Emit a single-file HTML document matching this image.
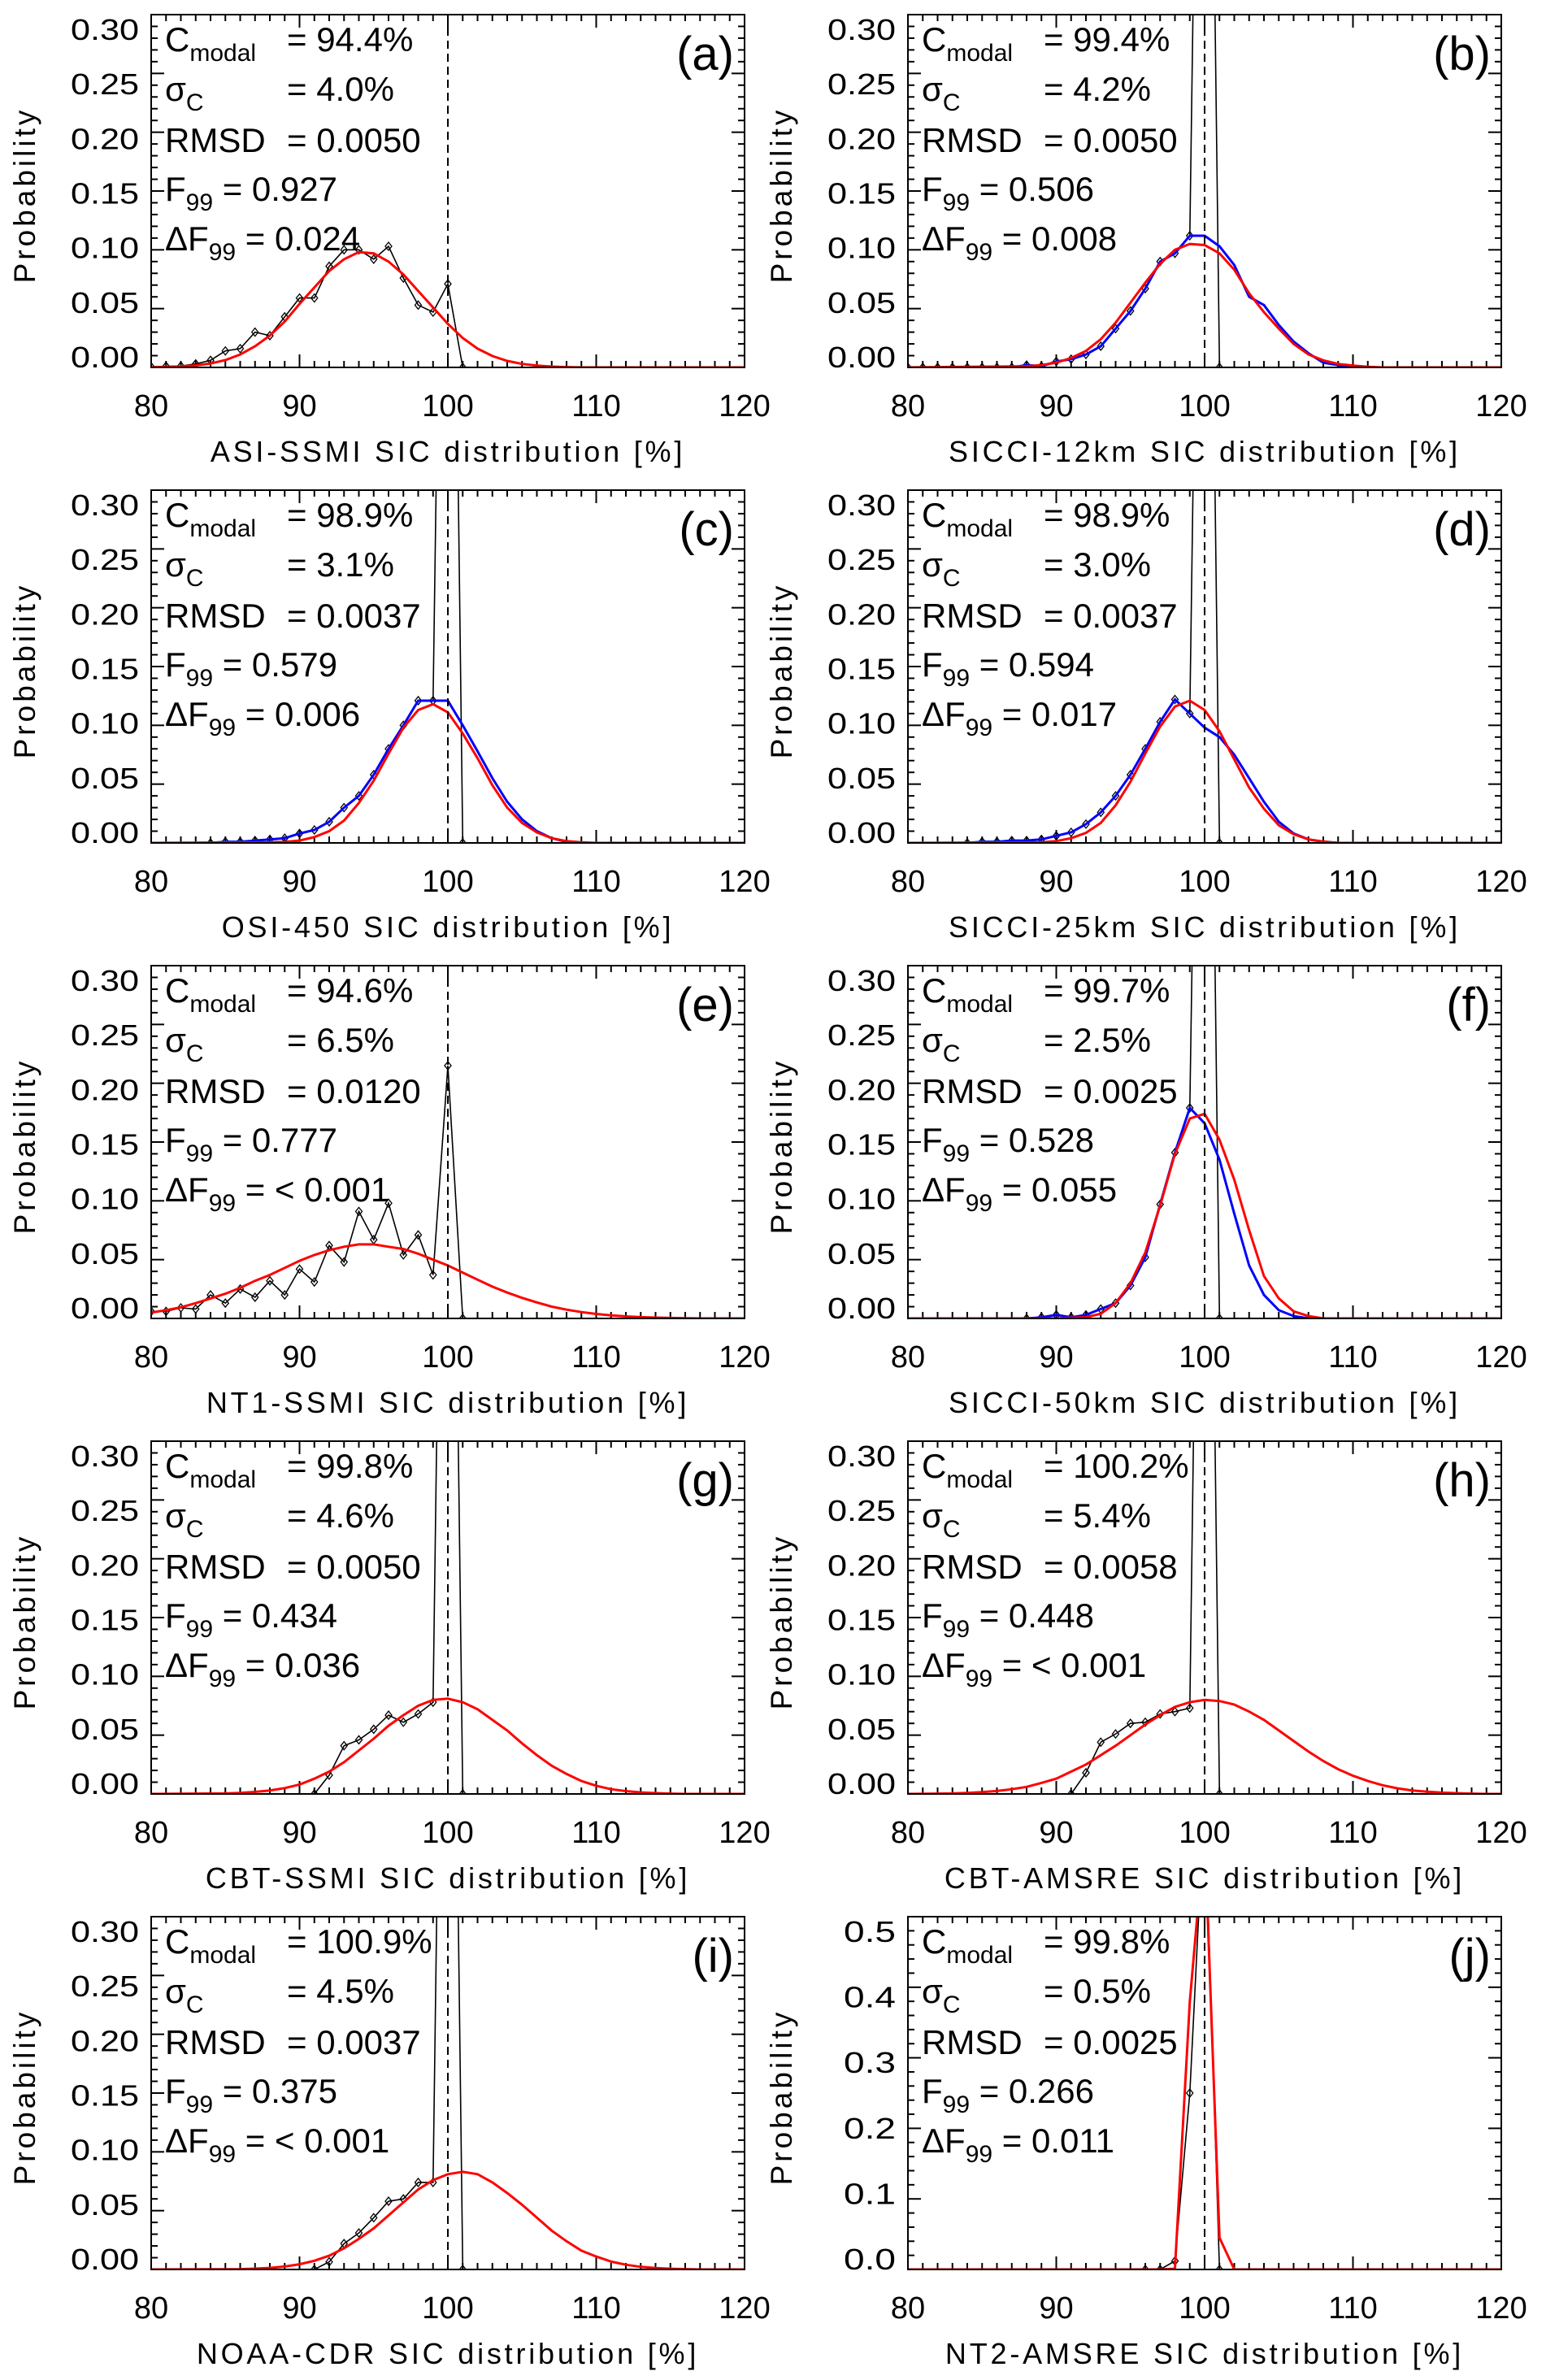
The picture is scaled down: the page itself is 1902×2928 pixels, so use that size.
<!DOCTYPE html>
<html><head><meta charset="utf-8">
<style>
html,body{margin:0;padding:0;background:#fff;}
svg{display:block;font-family:"Liberation Sans",sans-serif;}
</style></head>
<body>
<svg id="fig" width="1902" height="2928" viewBox="0 0 1902 2928" xmlns="http://www.w3.org/2000/svg"></svg>
<script>
// ---- data (x bins in %, probability values) ----
const panelIds = ["a","b","c","d","e","f","g","h","i","j"];
const productNames = ["ASI-SSMI","SICCI-12km","OSI-450","SICCI-25km","NT1-SSMI","SICCI-50km","CBT-SSMI","CBT-AMSRE","NOAA-CDR","NT2-AMSRE"];
const cModal = ["94.4%","99.4%","98.9%","98.9%","94.6%","99.7%","99.8%","100.2%","100.9%","99.8%"];
const sigmaC = ["4.0%","4.2%","3.1%","3.0%","6.5%","2.5%","4.6%","5.4%","4.5%","0.5%"];
const rmsd = ["0.0050","0.0050","0.0037","0.0037","0.0120","0.0025","0.0050","0.0058","0.0037","0.0025"];
const f99 = ["0.927","0.506","0.579","0.594","0.777","0.528","0.434","0.448","0.375","0.266"];
const dF99 = ["0.024","0.008","0.006","0.017","< 0.001","0.055","0.036","< 0.001","< 0.001","0.011"];
const yMax = [0.30,0.30,0.30,0.30,0.30,0.30,0.30,0.30,0.30,0.5];
const xTicks = [80,90,100,110,120];
const yTicksStd = ["0.00","0.05","0.10","0.15","0.20","0.25","0.30"];
const yTicksJ = ["0.0","0.1","0.2","0.3","0.4","0.5"];

const obsStart = [80,80,84,84,80,88,91,91,91,96];
const obsA = [0.0005,0.001,0.0012,0.003,0.006,0.014,0.016,0.030,0.027,0.043,0.059,0.059,0.086,0.100,0.100,0.092,0.103,0.076,0.053,0.047,0.071,0];
const obsB = [0,0,0,0,0,0,0,0,0.002,0.001,0.005,0.007,0.011,0.018,0.033,0.048,0.067,0.090,0.097,0.112,1.0,0];
const obsC = [0,0.001,0.001,0.002,0.003,0.004,0.008,0.011,0.018,0.030,0.040,0.058,0.080,0.100,0.121,0.121,1.0,0];
const obsD = [0,0.001,0.001,0.002,0.002,0.003,0.006,0.009,0.016,0.026,0.040,0.058,0.080,0.103,0.122,0.110,1.0,0];
const obsE = [0.006,0.006,0.009,0.008,0.020,0.013,0.025,0.018,0.032,0.020,0.042,0.031,0.062,0.048,0.091,0.067,0.098,0.054,0.071,0.037,0.215,0];
const obsF = [0,0.001,0.003,0.001,0.003,0.008,0.013,0.028,0.052,0.097,0.141,0.179,1.0,0];
const obsG = [0,0.016,0.041,0.046,0.055,0.067,0.061,0.068,0.078,1.0,0];
const obsH = [0,0.018,0.044,0.051,0.060,0.061,0.068,0.070,0.073,1.0,0];
const obsI = [0,0.0065,0.022,0.031,0.044,0.058,0.060,0.074,0.074,1.0,0];
const obsJ = [0,0,0.012,0.25,0.67,0];

const blueStart = [0,80,84,84,0,88,0,0,0,0];
const blueB = [0,0,0,0,0,0,0,0,0.002,0.001,0.005,0.007,0.011,0.018,0.033,0.048,0.067,0.090,0.097,0.112,0.112,0.103,0.087,0.060,0.053,0.036,0.022,0.012,0.004,0.002,0];
const blueC = [0,0.001,0.001,0.002,0.003,0.004,0.008,0.011,0.018,0.030,0.040,0.058,0.080,0.100,0.121,0.121,0.121,0.100,0.078,0.055,0.035,0.020,0.010,0.004,0.001,0];
const blueD = [0,0.001,0.001,0.002,0.002,0.003,0.006,0.009,0.016,0.026,0.040,0.058,0.080,0.103,0.122,0.110,0.098,0.090,0.075,0.055,0.035,0.018,0.008,0.003,0.001,0];
const blueF = [0,0.001,0.003,0.001,0.003,0.008,0.013,0.028,0.052,0.097,0.141,0.179,0.166,0.135,0.089,0.045,0.020,0.007,0.002,0];

const redStart = [80,88,88,89,80,90,85,83,86,97];
const redA = [0.0002,0.0004,0.0008,0.0017,0.0033,0.0062,0.011,0.018,0.027,0.039,0.054,0.068,0.082,0.092,0.098,0.097,0.090,0.079,0.065,0.051,0.037,0.025,0.016,0.0097,0.0055,0.003,0.0015,0.0007,0.0003,0];
const redB = [0.001,0.002,0.004,0.008,0.014,0.024,0.038,0.055,0.072,0.088,0.100,0.105,0.104,0.097,0.083,0.063,0.047,0.033,0.020,0.011,0.006,0.003,0.0015,0.0005,0];
const redC = [0.0005,0.0008,0.002,0.005,0.010,0.019,0.034,0.053,0.076,0.098,0.113,0.118,0.111,0.093,0.072,0.049,0.030,0.017,0.009,0.004,0.0015,0.0005,0];
const redD = [0.0005,0.0015,0.004,0.0086,0.017,0.032,0.052,0.076,0.099,0.116,0.121,0.113,0.095,0.071,0.047,0.029,0.015,0.0074,0.003,0.0012,0];
const redE = [0.005,0.007,0.0095,0.013,0.017,0.021,0.026,0.032,0.037,0.043,0.049,0.054,0.058,0.061,0.063,0.063,0.061,0.059,0.055,0.050,0.045,0.039,0.033,0.027,0.022,0.0175,0.0136,0.010,0.0075,0.0054,0.0038,0.0026,0.0017,0.0011,0.0007,0.0004,0.0002,0];
const redF = [0,0.0005,0.001,0.004,0.013,0.030,0.056,0.096,0.140,0.170,0.174,0.152,0.118,0.075,0.036,0.017,0.006,0.002,0];
const redG = [0.0004,0.0009,0.0017,0.003,0.005,0.008,0.013,0.019,0.027,0.037,0.047,0.058,0.067,0.075,0.080,0.081,0.078,0.072,0.063,0.054,0.043,0.033,0.024,0.017,0.011,0.007,0.004,0.0024,0.0013,0.0007,0.0003,0];
const redH = [0.0004,0.0009,0.0015,0.0025,0.004,0.006,0.0094,0.013,0.019,0.025,0.033,0.041,0.050,0.059,0.067,0.074,0.078,0.080,0.079,0.076,0.070,0.063,0.054,0.045,0.036,0.028,0.021,0.0155,0.011,0.0074,0.0048,0.003,0.0019,0.0011,0.0006,0.0003,0];
const redI = [0.0003,0.0007,0.0013,0.0025,0.0044,0.0074,0.0117,0.018,0.026,0.035,0.046,0.057,0.068,0.076,0.081,0.083,0.081,0.074,0.065,0.055,0.044,0.033,0.024,0.016,0.011,0.0067,0.004,0.0022,0.0012,0.0006,0.0003,0];
const redJ = [0,0.001,0.38,0.62,0.045,0];

const obsSeries = [obsA,obsB,obsC,obsD,obsE,obsF,obsG,obsH,obsI,obsJ];
const blueSeries = [null,blueB,blueC,blueD,null,blueF,null,null,null,null];
const redSeries = [redA,redB,redC,redD,redE,redF,redG,redH,redI,redJ];

// ---- drawing ----
const NS = "http://www.w3.org/2000/svg";
const svg = document.getElementById("fig");
function mk(tag, attrs, parent) {
  const e = document.createElementNS(NS, tag);
  for (const k in attrs) e.setAttribute(k, attrs[k]);
  (parent || svg).appendChild(e);
  return e;
}
const W = 730, H = 434, XMIN = 80, XMAX = 120;

panelIds.forEach((pid, p) => {
  const col = p % 2, row = Math.floor(p / 2);
  const L = col === 0 ? 186 : 1117;
  const T = 18 + 585 * row;
  const ym = yMax[p];
  const xs = v => L + (v - XMIN) / (XMAX - XMIN) * W;
  const ys = v => T + H - v / ym * H;

  const g = mk("g", {});
  
  

  const clip = mk("clipPath", {id: "clip-" + pid}, g);
  mk("rect", {x: L, y: T, width: W, height: H}, clip);

  // ticks
  const ticks = mk("g", {stroke: "#000", "stroke-width": 2}, g);
  
  
  for (let v = XMIN; v <= XMAX; v++) {
    const len = v % 10 === 0 ? 16 : 8;
    const x = xs(v);
    mk("line", {x1: x, x2: x, y1: T + H, y2: T + H - len}, ticks);
    mk("line", {x1: x, x2: x, y1: T, y2: T + len}, ticks);
  }
  const minorStep = ym > 0.3 ? 0.02 : 0.01;
  const nMinor = Math.round(ym / minorStep);
  const majorEvery = 5;
  for (let k = 0; k <= nMinor; k++) {
    const len = k % majorEvery === 0 ? 16 : 8;
    const y = ys(k * minorStep);
    mk("line", {x1: L, x2: L + len, y1: y, y2: y}, ticks);
    mk("line", {x1: L + W, x2: L + W - len, y1: y, y2: y}, ticks);
  }

  // tick labels
  xTicks.forEach(v => {
    const t = mk("text", {x: xs(v), y: T + 494, "text-anchor": "middle", "font-size": 38}, g);
    t.textContent = v;
    
    
  });
  const yl = ym > 0.3 ? yTicksJ : yTicksStd;
  yl.forEach((lab, k) => {
    const cy = (T + 421) - k / (yl.length - 1) * (421 - 18);
    const t = mk("text", {x: L - 15, y: cy + 13, "text-anchor": "end", "font-size": 36,
      textLength: lab.length === 4 ? 84 : 64, lengthAdjust: "spacingAndGlyphs"}, g);
    t.textContent = lab;
    
    
  });

  // axis titles
  const xt = mk("text", {x: L + 365, y: T + 550, "text-anchor": "middle", "font-size": 36, "letter-spacing": 3.8}, g);
  xt.textContent = productNames[p] + " SIC distribution [%]";
  
  
  const cxT = L - 143, cyT = T + 222;
  const yt = mk("text", {x: cxT, y: cyT, "text-anchor": "middle", "font-size": 37, "letter-spacing": 4,
    transform: `rotate(-90 ${cxT} ${cyT})`}, g);
  yt.textContent = "Probability";
  
  

  // series
  const plot = mk("g", {"clip-path": `url(#clip-${pid})`}, g);
  const pathOf = (arr, start, pad) => {
    let d = "";
    if (pad && start > XMIN) d += `M${xs(XMIN)},${ys(0)}L`;
    else d += "M";
    d += arr.map((v, k) => `${xs(start + k).toFixed(1)},${ys(v).toFixed(1)}`).join("L");
    if (pad) d += `L${xs(XMAX)},${ys(0)}`;
    return d;
  };
  const ob = obsSeries[p];
  const blk = mk("path", {d: pathOf(ob, obsStart[p], true), fill: "none", stroke: "#000", "stroke-width": 1.6}, plot);
  
  
  ob.forEach((v, k) => {
    if (v > ym) return;
    const x = xs(obsStart[p] + k), y = ys(v);
    const dm = mk("path", {d: `M${x},${y - 5}L${x + 4},${y}L${x},${y + 5}L${x - 4},${y}Z`, fill: "none", stroke: "#000", "stroke-width": 1.3}, plot);
    
    
  });
  const bl = blueSeries[p];
  if (bl) {
    const b = mk("path", {d: pathOf(bl, blueStart[p], true), fill: "none", stroke: "#0000ff", "stroke-width": 3}, plot);
    
    
  }
  const r = mk("path", {d: pathOf(redSeries[p], redStart[p], true), fill: "none", stroke: "#ff0000", "stroke-width": 3}, plot);
  
  

  const dl = mk("line", {x1: xs(100), x2: xs(100), y1: T, y2: T + H, stroke: "#000", "stroke-width": 2, "stroke-dasharray": "10 6"}, g);
  
  

  const fr = mk("rect", {x: L, y: T, width: W, height: H, fill: "none", stroke: "#000", "stroke-width": 2}, g);
  
  

  // annotations
  const ann = mk("g", {"font-size": 42}, g);
  
  
  const bx = L + 17, ex = L + 167;
  const rows = [T + 45, T + 106, T + 169, T + 229, T + 290];
  let t;
  t = mk("text", {x: bx, y: rows[0]}, ann);
  t.innerHTML = 'C<tspan font-size="30" dy="12">modal</tspan>';
  t = mk("text", {x: ex, y: rows[0]}, ann); t.textContent = "= " + cModal[p];
  t = mk("text", {x: bx, y: rows[1]}, ann);
  t.innerHTML = 'σ<tspan font-size="30" dy="12">C</tspan>';
  t = mk("text", {x: ex, y: rows[1]}, ann); t.textContent = "= " + sigmaC[p];
  t = mk("text", {x: bx, y: rows[2]}, ann); t.textContent = "RMSD";
  t = mk("text", {x: ex, y: rows[2]}, ann); t.textContent = "= " + rmsd[p];
  t = mk("text", {x: bx, y: rows[3]}, ann);
  t.innerHTML = 'F<tspan font-size="30" dy="12">99</tspan><tspan dy="-12"> = ' + f99[p] + '</tspan>';
  t = mk("text", {x: bx, y: rows[4]}, ann);
  t.innerHTML = 'ΔF<tspan font-size="30" dy="12">99</tspan><tspan dy="-12"> = ' + dF99[p].replace("<", "&lt;") + '</tspan>';

  const pl = mk("text", {x: L + 717, y: T + 68, "text-anchor": "end", "font-size": 58}, g);
  pl.textContent = "(" + pid + ")";
  
  
});
</script>
</body></html>
